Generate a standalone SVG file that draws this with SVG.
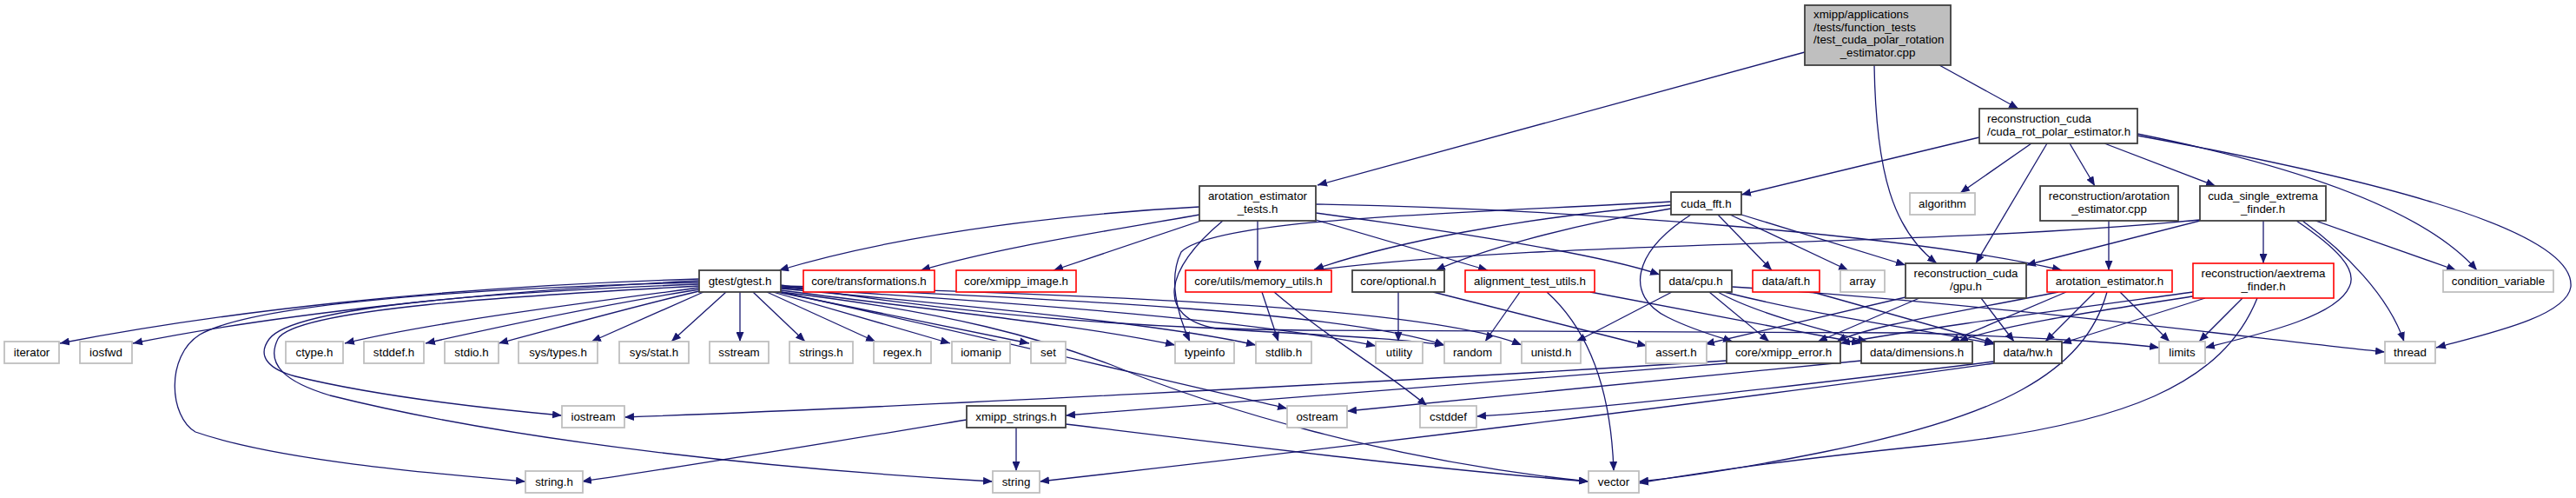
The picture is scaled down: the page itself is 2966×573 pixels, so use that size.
<svg xmlns="http://www.w3.org/2000/svg" width="2966" height="573" viewBox="0 0 2966 573">
<style>
text{font-family:"Liberation Sans",Arial,sans-serif;font-size:13.33px;fill:#000}
.c{text-anchor:middle}
.g rect{fill:#fff;stroke:#bfbfbf;stroke-width:1.8}
.b rect{fill:#fff;stroke:#404040;stroke-width:1.8}
.r rect{fill:#fff;stroke:#ff0000;stroke-width:1.6}
.t rect{fill:#bfbfbf;stroke:#404040;stroke-width:1.8}
#edges path{fill:none;stroke:#191970;stroke-width:1.3;marker-end:url(#a)}
</style>
<defs>
<marker id="a" markerWidth="12" markerHeight="9" refX="11" refY="4.5" orient="auto" markerUnits="userSpaceOnUse"><path d="M0,0 L11,4.5 L0,9 z" fill="#191970"/></marker>
</defs>
<rect width="2966" height="573" fill="#fff"/>
<g id="edges">
<path d="M2078,60 L1517,213"/>
<path d="M2233,75 L2324,125"/>
<path d="M2158,75 C2160,200 2180,265 2230,303"/>
<path d="M2279,158 L2005,224"/>
<path d="M2339,165 L2257,222"/>
<path d="M2357,165 L2275,303"/>
<path d="M2383,165 L2412,214"/>
<path d="M2423,165 L2551,214"/>
<path d="M2461,154 C2640,190 2790,240 2852,311"/>
<path d="M2461,156 C2700,200 2966,260 2960,330 C2955,365 2860,385 2805,400"/>
<path d="M2606,254 L2606,303"/>
<path d="M2644,254 C2690,285 2715,310 2705,330 C2690,365 2600,385 2539,400"/>
<path d="M2651,254 C2700,290 2750,340 2768,393"/>
<path d="M2666,254 L2828,311"/>
<path d="M2533,253 C2200,285 1800,275 1513,311"/>
<path d="M2533,254 L2333,305"/>
<path d="M2428,254 L2428,311"/>
<path d="M1381,238 C1250,245 1050,265 897,311"/>
<path d="M1381,247 C1250,270 1150,285 1060,311"/>
<path d="M1383,254 L1213,311"/>
<path d="M1408,254 C1340,310 1330,365 1400,378 C1500,385 1600,388 1663,397"/>
<path d="M1448,254 L1448,311"/>
<path d="M1515,235 C1800,240 2200,270 2374,311"/>
<path d="M1515,245 C1700,270 1850,295 1911,316"/>
<path d="M1515,253 L1713,311"/>
<path d="M1924,240 C1800,260 1700,290 1653,311"/>
<path d="M1924,236 C1750,250 1600,280 1513,310"/>
<path d="M1924,232 C1700,245 1400,250 1360,290 C1345,320 1355,360 1370,393"/>
<path d="M1978,247 L2040,311"/>
<path d="M1992,247 L2128,311"/>
<path d="M2005,247 L2194,305"/>
<path d="M1947,247 C1880,290 1870,340 1920,365 C1950,380 1980,388 1995,393"/>
<path d="M2281,343 L2319,393"/>
<path d="M2194,342 L1963,396"/>
<path d="M2210,343 L2093,393"/>
<path d="M2370,336 C2250,360 2150,375 2115,393"/>
<path d="M2379,336 L2245,393"/>
<path d="M2412,336 L2355,393"/>
<path d="M2441,336 L2498,393"/>
<path d="M2426,336 C2400,430 2300,480 2100,520 C2000,540 1930,550 1887,554"/>
<path d="M2525,336 C2350,360 2200,380 2119,395"/>
<path d="M2525,341 C2400,360 2300,375 2255,393"/>
<path d="M2539,343 L2374,395"/>
<path d="M2582,343 L2532,393"/>
<path d="M2599,343 C2560,440 2450,490 2216,513 C2050,530 1950,545 1887,556"/>
<path d="M1925,336 L1815,393"/>
<path d="M1968,336 L2037,393"/>
<path d="M1978,336 C2020,360 2100,380 2150,393"/>
<path d="M1985,336 C2100,365 2220,380 2296,396"/>
<path d="M1994,330 C2300,350 2600,390 2746,405"/>
<path d="M2087,336 L2297,395"/>
<path d="M1750,336 L1710,393"/>
<path d="M1781,336 C1830,380 1855,450 1858,542"/>
<path d="M1831,336 L2143,395"/>
<path d="M1610,336 L1610,393"/>
<path d="M1650,336 L1896,398"/>
<path d="M1453,336 L1472,393"/>
<path d="M1467,336 C1530,390 1600,430 1643,467"/>
<path d="M805,321 C500,330 250,360 69,395"/>
<path d="M805,323 C550,335 300,365 153,395"/>
<path d="M805,325 C600,330 300,345 230,385 C190,410 195,480 225,497 C320,530 500,545 605,554"/>
<path d="M805,327 C600,335 340,350 310,390 C295,410 310,425 340,433 C430,455 560,470 647,478"/>
<path d="M805,329 C600,340 340,355 320,390 C305,420 330,440 380,455 C600,510 900,540 1143,554"/>
<path d="M805,331 C700,345 500,370 397,395"/>
<path d="M805,333 C700,350 600,370 490,395"/>
<path d="M805,335 C720,355 650,375 574,395"/>
<path d="M810,336 L681,393"/>
<path d="M836,336 L773,393"/>
<path d="M852,336 L852,393"/>
<path d="M867,336 L927,393"/>
<path d="M883,336 L1008,393"/>
<path d="M890,336 L1094,395"/>
<path d="M895,336 L1185,395"/>
<path d="M899,334 C1100,360 1250,375 1353,397"/>
<path d="M899,332 C1150,355 1350,375 1446,397"/>
<path d="M899,331 C1200,350 1450,370 1584,398"/>
<path d="M899,330 C1250,345 1550,360 1663,397"/>
<path d="M899,329 C1300,340 1650,355 1752,397"/>
<path d="M899,328 C1100,360 1300,378 1500,380 L2200,383 C2350,388 2450,395 2486,400"/>
<path d="M899,336 C1100,380 1350,440 1482,470"/>
<path d="M899,336 C1100,360 1200,390 1280,420 C1400,470 1600,530 1829,554"/>
<path d="M1988,415 C1600,440 1000,470 719,480"/>
<path d="M1990,418 C1700,440 1400,465 1227,478"/>
<path d="M2143,415 C1900,440 1700,460 1551,473"/>
<path d="M2296,416 C2100,440 1850,470 1700,479"/>
<path d="M2296,418 C2000,460 1500,520 1197,554"/>
<path d="M1113,483 C950,510 800,535 670,554"/>
<path d="M1170,492 L1170,542"/>
<path d="M1227,488 C1450,515 1650,540 1829,554"/>
</g>
<g id="n_top" class="t"><rect x="2078" y="6" width="168" height="69"/><text x="2088" y="21">xmipp/applications</text><text x="2088" y="36">/tests/function_tests</text><text x="2088" y="50">/test_cuda_polar_rotation</text><text class="c" x="2162" y="65">_estimator.cpp</text></g>
<g id="n_crot" class="b"><rect x="2279" y="125" width="182" height="40"/><text x="2288" y="141">reconstruction_cuda</text><text x="2288" y="156">/cuda_rot_polar_estimator.h</text></g>
<g id="n_at" class="b"><rect x="1381" y="214" width="134" height="40"/><text class="c" x="1448" y="230">arotation_estimator</text><text class="c" x="1448" y="245">_tests.h</text></g>
<g id="n_cf" class="b"><rect x="1924" y="221" width="81" height="26"/><text class="c" x="1964.5" y="238.5">cuda_fft.h</text></g>
<g id="n_alg" class="g"><rect x="2199" y="222" width="75" height="25"/><text class="c" x="2236.5" y="239">algorithm</text></g>
<g id="n_acpp" class="b"><rect x="2349" y="214" width="159" height="40"/><text class="c" x="2428.5" y="230">reconstruction/arotation</text><text class="c" x="2428.5" y="245">_estimator.cpp</text></g>
<g id="n_csef" class="b"><rect x="2533" y="214" width="145" height="40"/><text class="c" x="2605.5" y="230">cuda_single_extrema</text><text class="c" x="2605.5" y="245">_finder.h</text></g>
<g id="n_gtest" class="b"><rect x="805" y="311" width="94" height="25"/><text class="c" x="852" y="328">gtest/gtest.h</text></g>
<g id="n_tr" class="r"><rect x="925" y="311" width="151" height="25"/><text class="c" x="1000.5" y="328">core/transformations.h</text></g>
<g id="n_xi" class="r"><rect x="1101" y="311" width="138" height="25"/><text class="c" x="1170" y="328">core/xmipp_image.h</text></g>
<g id="n_mu" class="r"><rect x="1365" y="311" width="168" height="25"/><text class="c" x="1449" y="328">core/utils/memory_utils.h</text></g>
<g id="n_opt" class="b"><rect x="1557" y="311" width="106" height="25"/><text class="c" x="1610" y="328">core/optional.h</text></g>
<g id="n_atu" class="r"><rect x="1687" y="311" width="149" height="25"/><text class="c" x="1761.5" y="328">alignment_test_utils.h</text></g>
<g id="n_cpu" class="b"><rect x="1911" y="311" width="83" height="25"/><text class="c" x="1952.5" y="328">data/cpu.h</text></g>
<g id="n_aft" class="r"><rect x="2018" y="311" width="77" height="25"/><text class="c" x="2056.5" y="328">data/aft.h</text></g>
<g id="n_array" class="g"><rect x="2119" y="311" width="51" height="25"/><text class="c" x="2144.5" y="328">array</text></g>
<g id="n_gpu" class="b"><rect x="2194" y="303" width="139" height="40"/><text class="c" x="2263.5" y="319">reconstruction_cuda</text><text class="c" x="2263.5" y="334">/gpu.h</text></g>
<g id="n_aeh" class="r"><rect x="2357" y="311" width="144" height="25"/><text class="c" x="2429" y="328">arotation_estimator.h</text></g>
<g id="n_aef" class="r"><rect x="2525" y="303" width="162" height="40"/><text class="c" x="2606" y="319">reconstruction/aextrema</text><text class="c" x="2606" y="334">_finder.h</text></g>
<g id="n_cv" class="g"><rect x="2813" y="311" width="127" height="25"/><text class="c" x="2876.5" y="328">condition_variable</text></g>
<g id="n_iterator" class="g"><rect x="5" y="393" width="63" height="25"/><text class="c" x="36.5" y="410">iterator</text></g>
<g id="n_iosfwd" class="g"><rect x="92" y="393" width="60" height="25"/><text class="c" x="122" y="410">iosfwd</text></g>
<g id="n_ctype" class="g"><rect x="329" y="393" width="66" height="25"/><text class="c" x="362" y="410">ctype.h</text></g>
<g id="n_stddef" class="g"><rect x="419" y="393" width="69" height="25"/><text class="c" x="453.5" y="410">stddef.h</text></g>
<g id="n_stdio" class="g"><rect x="512" y="393" width="62" height="25"/><text class="c" x="543" y="410">stdio.h</text></g>
<g id="n_systypes" class="g"><rect x="597" y="393" width="91" height="25"/><text class="c" x="642.5" y="410">sys/types.h</text></g>
<g id="n_sysstat" class="g"><rect x="713" y="393" width="80" height="25"/><text class="c" x="753" y="410">sys/stat.h</text></g>
<g id="n_sstream" class="g"><rect x="817" y="393" width="68" height="25"/><text class="c" x="851" y="410">sstream</text></g>
<g id="n_strings" class="g"><rect x="909" y="393" width="73" height="25"/><text class="c" x="945.5" y="410">strings.h</text></g>
<g id="n_regex" class="g"><rect x="1006" y="393" width="66" height="25"/><text class="c" x="1039" y="410">regex.h</text></g>
<g id="n_iomanip" class="g"><rect x="1096" y="393" width="67" height="25"/><text class="c" x="1129.5" y="410">iomanip</text></g>
<g id="n_set" class="g"><rect x="1187" y="393" width="40" height="25"/><text class="c" x="1207" y="410">set</text></g>
<g id="n_typeinfo" class="g"><rect x="1353" y="393" width="68" height="25"/><text class="c" x="1387" y="410">typeinfo</text></g>
<g id="n_stdlib" class="g"><rect x="1446" y="393" width="64" height="25"/><text class="c" x="1478" y="410">stdlib.h</text></g>
<g id="n_utility" class="g"><rect x="1584" y="393" width="54" height="25"/><text class="c" x="1611" y="410">utility</text></g>
<g id="n_random" class="g"><rect x="1663" y="393" width="65" height="25"/><text class="c" x="1695.5" y="410">random</text></g>
<g id="n_unistd" class="g"><rect x="1752" y="393" width="68" height="25"/><text class="c" x="1786" y="410">unistd.h</text></g>
<g id="n_assert" class="g"><rect x="1895" y="393" width="70" height="25"/><text class="c" x="1930" y="410">assert.h</text></g>
<g id="n_xerr" class="b"><rect x="1988" y="393" width="131" height="25"/><text class="c" x="2053.5" y="410">core/xmipp_error.h</text></g>
<g id="n_dim" class="b"><rect x="2143" y="393" width="128" height="25"/><text class="c" x="2207" y="410">data/dimensions.h</text></g>
<g id="n_hw" class="b"><rect x="2296" y="393" width="78" height="25"/><text class="c" x="2335" y="410">data/hw.h</text></g>
<g id="n_limits" class="g"><rect x="2486" y="393" width="53" height="25"/><text class="c" x="2512.5" y="410">limits</text></g>
<g id="n_thread" class="g"><rect x="2746" y="393" width="58" height="25"/><text class="c" x="2775" y="410">thread</text></g>
<g id="n_iostream" class="g"><rect x="647" y="467" width="72" height="25"/><text class="c" x="683" y="484">iostream</text></g>
<g id="n_xstr" class="b"><rect x="1113" y="467" width="114" height="25"/><text class="c" x="1170" y="484">xmipp_strings.h</text></g>
<g id="n_ostream" class="g"><rect x="1482" y="467" width="69" height="25"/><text class="c" x="1516.5" y="484">ostream</text></g>
<g id="n_cstddef" class="g"><rect x="1635" y="467" width="65" height="25"/><text class="c" x="1667.5" y="484">cstddef</text></g>
<g id="n_stringh" class="g"><rect x="605" y="542" width="66" height="25"/><text class="c" x="638" y="559">string.h</text></g>
<g id="n_string" class="g"><rect x="1143" y="542" width="54" height="25"/><text class="c" x="1170" y="559">string</text></g>
<g id="n_vector" class="g"><rect x="1829" y="542" width="58" height="25"/><text class="c" x="1858" y="559">vector</text></g>
</svg>
